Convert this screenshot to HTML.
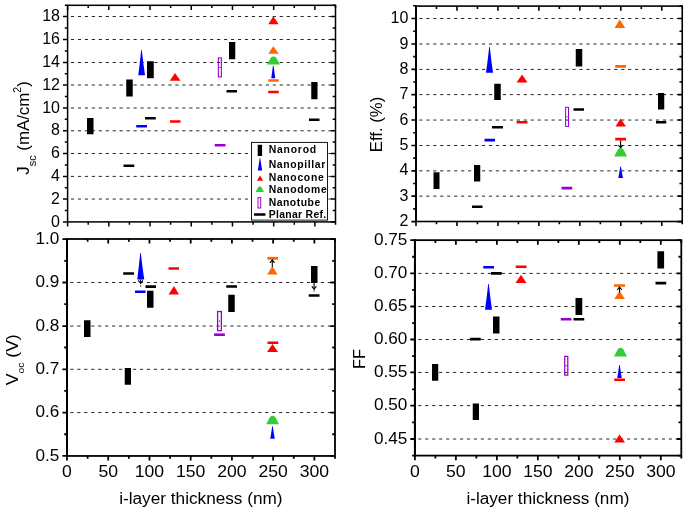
<!DOCTYPE html>
<html><head><meta charset="utf-8"><title>chart</title><style>html,body{margin:0;padding:0;background:#fff}svg{display:block;transform:translateZ(0);will-change:transform}</style></head><body>
<svg width="688" height="512" viewBox="0 0 688 512" font-family="'Liberation Sans', sans-serif" fill="#000">
<rect width="688" height="512" fill="#fff"/>
<line x1="68.40" y1="199.05" x2="335.00" y2="199.05" stroke="#000" stroke-width="0.85" stroke-dasharray="3.2,3.76" stroke-dashoffset="-2.5"/>
<line x1="68.40" y1="176.40" x2="335.00" y2="176.40" stroke="#000" stroke-width="0.85" stroke-dasharray="3.2,3.76" stroke-dashoffset="-2.5"/>
<line x1="68.40" y1="153.50" x2="335.00" y2="153.50" stroke="#000" stroke-width="0.85" stroke-dasharray="3.2,3.76" stroke-dashoffset="-2.5"/>
<line x1="68.40" y1="130.80" x2="335.00" y2="130.80" stroke="#000" stroke-width="0.85" stroke-dasharray="3.2,3.76" stroke-dashoffset="-2.5"/>
<line x1="68.40" y1="108.00" x2="335.00" y2="108.00" stroke="#000" stroke-width="0.85" stroke-dasharray="3.2,3.76" stroke-dashoffset="-2.5"/>
<line x1="68.40" y1="85.00" x2="335.00" y2="85.00" stroke="#000" stroke-width="0.85" stroke-dasharray="3.2,3.76" stroke-dashoffset="-2.5"/>
<line x1="68.40" y1="62.50" x2="335.00" y2="62.50" stroke="#000" stroke-width="0.85" stroke-dasharray="3.2,3.76" stroke-dashoffset="-2.5"/>
<line x1="68.40" y1="39.50" x2="335.00" y2="39.50" stroke="#000" stroke-width="0.85" stroke-dasharray="3.2,3.76" stroke-dashoffset="-2.5"/>
<line x1="68.40" y1="16.50" x2="335.00" y2="16.50" stroke="#000" stroke-width="0.85" stroke-dasharray="3.2,3.76" stroke-dashoffset="-2.5"/>
<line x1="416.80" y1="196.15" x2="681.75" y2="196.15" stroke="#000" stroke-width="0.85" stroke-dasharray="3.2,3.76" stroke-dashoffset="-2.5"/>
<line x1="416.80" y1="170.85" x2="681.75" y2="170.85" stroke="#000" stroke-width="0.85" stroke-dasharray="3.2,3.76" stroke-dashoffset="-2.5"/>
<line x1="416.80" y1="145.50" x2="681.75" y2="145.50" stroke="#000" stroke-width="0.85" stroke-dasharray="3.2,3.76" stroke-dashoffset="-2.5"/>
<line x1="416.80" y1="120.05" x2="681.75" y2="120.05" stroke="#000" stroke-width="0.85" stroke-dasharray="3.2,3.76" stroke-dashoffset="-2.5"/>
<line x1="416.80" y1="94.60" x2="681.75" y2="94.60" stroke="#000" stroke-width="0.85" stroke-dasharray="3.2,3.76" stroke-dashoffset="-2.5"/>
<line x1="416.80" y1="69.40" x2="681.75" y2="69.40" stroke="#000" stroke-width="0.85" stroke-dasharray="3.2,3.76" stroke-dashoffset="-2.5"/>
<line x1="416.80" y1="44.00" x2="681.75" y2="44.00" stroke="#000" stroke-width="0.85" stroke-dasharray="3.2,3.76" stroke-dashoffset="-2.5"/>
<line x1="416.80" y1="18.50" x2="681.75" y2="18.50" stroke="#000" stroke-width="0.85" stroke-dasharray="3.2,3.76" stroke-dashoffset="-2.5"/>
<line x1="67.80" y1="412.55" x2="334.50" y2="412.55" stroke="#000" stroke-width="0.85" stroke-dasharray="3.2,3.76" stroke-dashoffset="-2.5"/>
<line x1="67.80" y1="369.30" x2="334.50" y2="369.30" stroke="#000" stroke-width="0.85" stroke-dasharray="3.2,3.76" stroke-dashoffset="-2.5"/>
<line x1="67.80" y1="326.05" x2="334.50" y2="326.05" stroke="#000" stroke-width="0.85" stroke-dasharray="3.2,3.76" stroke-dashoffset="-2.5"/>
<line x1="67.80" y1="282.50" x2="334.50" y2="282.50" stroke="#000" stroke-width="0.85" stroke-dasharray="3.2,3.76" stroke-dashoffset="-2.5"/>
<line x1="415.70" y1="439.00" x2="680.80" y2="439.00" stroke="#000" stroke-width="0.85" stroke-dasharray="3.2,3.76" stroke-dashoffset="-2.5"/>
<line x1="415.70" y1="405.60" x2="680.80" y2="405.60" stroke="#000" stroke-width="0.85" stroke-dasharray="3.2,3.76" stroke-dashoffset="-2.5"/>
<line x1="415.70" y1="372.45" x2="680.80" y2="372.45" stroke="#000" stroke-width="0.85" stroke-dasharray="3.2,3.76" stroke-dashoffset="-2.5"/>
<line x1="415.70" y1="339.50" x2="680.80" y2="339.50" stroke="#000" stroke-width="0.85" stroke-dasharray="3.2,3.76" stroke-dashoffset="-2.5"/>
<line x1="415.70" y1="306.50" x2="680.80" y2="306.50" stroke="#000" stroke-width="0.85" stroke-dasharray="3.2,3.76" stroke-dashoffset="-2.5"/>
<line x1="415.70" y1="273.40" x2="680.80" y2="273.40" stroke="#000" stroke-width="0.85" stroke-dasharray="3.2,3.76" stroke-dashoffset="-2.5"/>
<rect x="87.00" y="118.00" width="6.50" height="16.25" fill="#000"/>
<rect x="126.25" y="79.50" width="6.50" height="17.00" fill="#000"/>
<rect x="147.00" y="61.25" width="6.75" height="17.00" fill="#000"/>
<rect x="229.00" y="42.00" width="6.25" height="17.25" fill="#000"/>
<rect x="311.25" y="82.00" width="6.25" height="17.25" fill="#000"/>
<rect x="123.50" y="164.50" width="10.75" height="2.50" fill="#000"/>
<rect x="145.00" y="117.00" width="10.75" height="2.50" fill="#000"/>
<rect x="226.50" y="90.00" width="10.50" height="2.50" fill="#000"/>
<rect x="309.00" y="118.50" width="10.50" height="2.50" fill="#000"/>
<path d="M141.20,50.00 L141.80,50.00 Q143.18,62.62 145.00,75.25 L138.25,75.25 Q139.91,62.62 141.20,50.00Z" fill="#0000ff"/>
<rect x="136.25" y="125.00" width="10.75" height="2.50" fill="#0000ff"/>
<polygon points="175.00,73.00 180.50,80.75 169.75,80.75" fill="#ff0000"/>
<rect x="170.00" y="120.25" width="10.50" height="2.50" fill="#ff0000"/>
<rect x="218.35" y="57.95" width="3.00" height="19.00" fill="none" stroke="#9900cc" stroke-width="1.1"/>
<rect x="219.35" y="66.95" width="1" height="1" fill="#000"/>
<rect x="214.75" y="144.00" width="10.75" height="2.50" fill="#9900cc"/>
<polygon points="273.25,16.25 278.75,24.25 268.25,24.25" fill="#ff0000"/>
<polygon points="273.25,46.25 278.75,53.75 268.25,53.75" fill="#ff6600"/>
<path d="M272.95,65.50 L273.55,65.50 Q274.36,71.88 275.25,78.25 L271.25,78.25 Q272.14,71.88 272.95,65.50Z" fill="#0000ff"/>
<path d="M267.00,64.50 L270.12,58.89 C271.29,55.59 275.71,55.59 276.88,58.89 L280.00,64.50Z" fill="#33cc33"/>
<rect x="268.25" y="79.25" width="10.50" height="2.50" fill="#ff6600"/>
<rect x="268.25" y="90.75" width="10.50" height="2.50" fill="#ff0000"/>
<rect x="433.50" y="172.25" width="6.00" height="16.75" fill="#000"/>
<rect x="474.00" y="165.00" width="6.25" height="16.50" fill="#000"/>
<rect x="494.25" y="83.75" width="6.50" height="16.25" fill="#000"/>
<rect x="575.75" y="49.00" width="6.50" height="17.50" fill="#000"/>
<rect x="658.00" y="93.00" width="6.25" height="16.50" fill="#000"/>
<rect x="472.00" y="205.50" width="10.50" height="2.50" fill="#000"/>
<rect x="492.00" y="126.00" width="11.00" height="2.50" fill="#000"/>
<rect x="573.50" y="108.25" width="10.50" height="2.50" fill="#000"/>
<rect x="656.00" y="121.00" width="10.25" height="2.50" fill="#000"/>
<path d="M489.20,47.00 L489.80,47.00 Q491.18,59.88 493.00,72.75 L486.00,72.75 Q487.82,59.88 489.20,47.00Z" fill="#0000ff"/>
<rect x="484.50" y="138.75" width="10.50" height="2.75" fill="#0000ff"/>
<polygon points="522.00,74.50 527.50,82.50 516.50,82.50" fill="#ff0000"/>
<rect x="516.50" y="121.00" width="11.00" height="2.50" fill="#ff0000"/>
<rect x="565.60" y="107.30" width="2.90" height="19.10" fill="none" stroke="#9900cc" stroke-width="1.0"/>
<rect x="566.55" y="116.35" width="1" height="1" fill="#000"/>
<rect x="561.50" y="186.75" width="10.75" height="2.75" fill="#9900cc"/>
<polygon points="619.75,19.50 625.25,28.00 614.50,28.00" fill="#ff6600"/>
<rect x="615.25" y="65.00" width="10.75" height="2.75" fill="#ff6600"/>
<polygon points="620.50,118.50 626.00,126.50 615.50,126.50" fill="#ff0000"/>
<rect x="615.25" y="137.75" width="10.75" height="2.75" fill="#ff0000"/>
<line x1="620.60" y1="140.50" x2="620.60" y2="148.20" stroke="#000" stroke-width="1.1"/>
<path d="M618.30,145.00 L620.60,147.90 L622.90,145.00" fill="none" stroke="#000" stroke-width="1.1"/>
<path d="M614.20,156.60 L617.30,150.62 C618.46,147.10 622.84,147.10 624.00,150.62 L627.10,156.60Z" fill="#33cc33"/>
<path d="M620.30,166.40 L620.90,166.40 Q621.86,172.25 623.00,178.10 L618.30,178.10 Q619.38,172.25 620.30,166.40Z" fill="#0000ff"/>
<rect x="84.00" y="320.25" width="6.50" height="16.75" fill="#000"/>
<rect x="124.75" y="368.00" width="6.25" height="16.75" fill="#000"/>
<rect x="147.00" y="290.75" width="6.50" height="17.00" fill="#000"/>
<rect x="228.25" y="294.75" width="6.50" height="17.25" fill="#000"/>
<rect x="311.00" y="266.00" width="6.50" height="17.00" fill="#000"/>
<rect x="123.25" y="272.25" width="10.75" height="2.50" fill="#000"/>
<rect x="145.50" y="285.25" width="10.50" height="2.75" fill="#000"/>
<rect x="226.25" y="285.25" width="10.75" height="2.50" fill="#000"/>
<rect x="308.75" y="294.25" width="10.75" height="2.50" fill="#000"/>
<path d="M140.20,253.00 L140.80,253.00 Q142.28,266.25 144.25,279.50 L137.25,279.50 Q138.91,266.25 140.20,253.00Z" fill="#0000ff"/>
<line x1="140.60" y1="279.30" x2="140.60" y2="283.60" stroke="#000" stroke-width="1.1"/>
<path d="M138.30,280.40 L140.60,283.30 L142.90,280.40" fill="none" stroke="#000" stroke-width="1.1"/>
<rect x="140.05" y="285.50" width="1.1" height="1.1" fill="#000"/>
<rect x="135.00" y="290.50" width="10.50" height="2.50" fill="#0000ff"/>
<rect x="168.50" y="267.25" width="10.50" height="2.50" fill="#ff0000"/>
<polygon points="174.00,286.00 179.00,294.50 168.50,294.50" fill="#ff0000"/>
<rect x="217.60" y="311.55" width="3.75" height="19.10" fill="none" stroke="#9900cc" stroke-width="1.3"/>
<rect x="218.97" y="320.60" width="1" height="1" fill="#000"/>
<rect x="214.10" y="333.40" width="10.80" height="2.60" fill="#9900cc"/>
<rect x="267.40" y="256.90" width="10.70" height="2.80" fill="#ff6600"/>
<polygon points="272.30,266.30 277.60,274.50 267.10,274.50" fill="#ff6600"/>
<line x1="272.30" y1="259.60" x2="272.30" y2="267.00" stroke="#000" stroke-width="1.1"/>
<path d="M270.00,262.80 L272.30,259.90 L274.60,262.80" fill="none" stroke="#000" stroke-width="1.1"/>
<rect x="267.50" y="341.50" width="10.75" height="2.50" fill="#ff0000"/>
<polygon points="272.50,344.00 278.00,352.00 267.00,352.00" fill="#ff0000"/>
<path d="M266.25,424.25 L269.31,418.30 C270.46,414.80 274.79,414.80 275.94,418.30 L279.00,424.25Z" fill="#33cc33"/>
<path d="M272.20,426.25 L272.80,426.25 Q273.71,432.50 274.75,438.75 L270.25,438.75 Q271.29,432.50 272.20,426.25Z" fill="#0000ff"/>
<line x1="314.10" y1="283.00" x2="314.10" y2="289.50" stroke="#000" stroke-width="1.1"/>
<path d="M311.80,286.30 L314.10,289.20 L316.40,286.30" fill="none" stroke="#000" stroke-width="1.1"/>
<rect x="313.55" y="290.50" width="1.1" height="1.1" fill="#000"/>
<rect x="432.00" y="364.00" width="6.25" height="16.75" fill="#000"/>
<rect x="472.75" y="403.50" width="6.25" height="16.50" fill="#000"/>
<rect x="493.00" y="316.50" width="6.50" height="17.00" fill="#000"/>
<rect x="575.50" y="298.00" width="6.75" height="17.00" fill="#000"/>
<rect x="657.40" y="251.25" width="6.70" height="17.25" fill="#000"/>
<rect x="470.00" y="337.75" width="10.75" height="2.75" fill="#000"/>
<rect x="491.00" y="272.00" width="10.75" height="2.75" fill="#000"/>
<rect x="573.50" y="318.00" width="10.75" height="2.50" fill="#000"/>
<rect x="655.50" y="281.75" width="10.75" height="2.75" fill="#000"/>
<rect x="483.25" y="266.00" width="10.75" height="2.50" fill="#0000ff"/>
<path d="M488.20,284.00 L488.80,284.00 Q490.18,296.88 492.00,309.75 L485.00,309.75 Q486.82,296.88 488.20,284.00Z" fill="#0000ff"/>
<rect x="515.75" y="265.50" width="10.75" height="2.50" fill="#ff0000"/>
<polygon points="521.00,274.75 526.50,283.00 515.50,283.00" fill="#ff0000"/>
<rect x="560.75" y="318.00" width="10.75" height="2.50" fill="#9900cc"/>
<rect x="564.73" y="356.38" width="3.05" height="18.75" fill="none" stroke="#9900cc" stroke-width="1.25"/>
<rect x="565.75" y="365.25" width="1" height="1" fill="#000"/>
<rect x="614.00" y="284.25" width="11.00" height="2.50" fill="#ff6600"/>
<polygon points="619.50,291.00 625.00,299.00 614.25,299.00" fill="#ff6600"/>
<line x1="619.50" y1="286.80" x2="619.50" y2="292.75" stroke="#000" stroke-width="1.1"/>
<path d="M617.20,290.00 L619.50,287.10 L621.80,290.00" fill="none" stroke="#000" stroke-width="1.1"/>
<path d="M614.00,356.50 L617.12,350.38 C618.29,346.78 622.71,346.78 623.88,350.38 L627.00,356.50Z" fill="#33cc33"/>
<path d="M619.20,365.00 L619.80,365.00 Q620.71,371.50 621.75,378.00 L617.25,378.00 Q618.29,371.50 619.20,365.00Z" fill="#0000ff"/>
<rect x="614.25" y="378.50" width="10.75" height="2.50" fill="#ff0000"/>
<polygon points="619.50,434.50 625.00,442.50 614.25,442.50" fill="#ff0000"/>
<rect x="251.5" y="142.4" width="76.0" height="77.7" fill="#fff" stroke="#000" stroke-width="0.9"/>
<rect x="257.70" y="144.80" width="4.40" height="11.20" fill="#000"/>
<path d="M259.70,158.20 L260.30,158.20 Q261.15,164.30 262.10,170.40 L257.80,170.40 Q258.81,164.30 259.70,158.20Z" fill="#0000ff"/>
<polygon points="260.00,175.60 263.10,180.70 256.90,180.70" fill="#ff0000"/>
<path d="M255.60,191.90 L257.62,188.16 C258.37,185.96 261.23,185.96 261.98,188.16 L264.00,191.90Z" fill="#33cc33"/>
<rect x="258.00" y="197.70" width="2.70" height="10.30" fill="none" stroke="#9900cc" stroke-width="1.0"/>
<rect x="254.00" y="213.25" width="11.50" height="2.50" fill="#000"/>
<text x="268.70" y="153.00" text-anchor="start" font-size="10.4" textLength="47.50" font-weight="bold" lengthAdjust="spacing">Nanorod</text>
<text x="268.70" y="168.00" text-anchor="start" font-size="10.4" textLength="56.50" font-weight="bold" lengthAdjust="spacing">Nanopillar</text>
<text x="268.70" y="181.00" text-anchor="start" font-size="10.4" textLength="55.00" font-weight="bold" lengthAdjust="spacing">Nanocone</text>
<text x="268.70" y="192.50" text-anchor="start" font-size="10.4" textLength="58.00" font-weight="bold" lengthAdjust="spacing">Nanodome</text>
<text x="268.70" y="206.25" text-anchor="start" font-size="10.4" textLength="51.50" font-weight="bold" lengthAdjust="spacing">Nanotube</text>
<text x="268.70" y="217.50" text-anchor="start" font-size="10.4" textLength="57.50" font-weight="bold" lengthAdjust="spacing">Planar Ref.</text>
<rect x="67.60" y="5.30" width="267.90" height="216.60" fill="none" stroke="#000" stroke-width="1.5"/>
<path d="M67.60,5.30v4.6M67.60,221.90v4.6M88.21,5.30v2.8M88.21,221.90v2.8M108.82,5.30v4.6M108.82,221.90v4.6M129.42,5.30v2.8M129.42,221.90v2.8M150.03,5.30v4.6M150.03,221.90v4.6M170.64,5.30v2.8M170.64,221.90v2.8M191.25,5.30v4.6M191.25,221.90v4.6M211.85,5.30v2.8M211.85,221.90v2.8M232.46,5.30v4.6M232.46,221.90v4.6M253.07,5.30v2.8M253.07,221.90v2.8M273.68,5.30v4.6M273.68,221.90v4.6M294.28,5.30v2.8M294.28,221.90v2.8M314.89,5.30v4.6M314.89,221.90v4.6M335.50,5.30v2.8M335.50,221.90v2.8M67.60,221.90h-4.6M335.50,221.90h-4.6M67.60,199.05h-4.6M335.50,199.05h-4.6M67.60,176.40h-4.6M335.50,176.40h-4.6M67.60,153.50h-4.6M335.50,153.50h-4.6M67.60,130.80h-4.6M335.50,130.80h-4.6M67.60,108.00h-4.6M335.50,108.00h-4.6M67.60,85.00h-4.6M335.50,85.00h-4.6M67.60,62.50h-4.6M335.50,62.50h-4.6M67.60,39.50h-4.6M335.50,39.50h-4.6M67.60,16.50h-4.6M335.50,16.50h-4.6M67.60,210.50h-2.8M335.50,210.50h-2.8M67.60,187.70h-2.8M335.50,187.70h-2.8M67.60,164.90h-2.8M335.50,164.90h-2.8M67.60,142.10h-2.8M335.50,142.10h-2.8M67.60,119.30h-2.8M335.50,119.30h-2.8M67.60,96.50h-2.8M335.50,96.50h-2.8M67.60,73.70h-2.8M335.50,73.70h-2.8M67.60,50.90h-2.8M335.50,50.90h-2.8M67.60,28.10h-2.8M335.50,28.10h-2.8M67.60,5.30h-2.8M335.50,5.30h-2.8" stroke="#000" stroke-width="1.5" fill="none"/>
<text x="60.00" y="226.50" text-anchor="end" font-size="16">0</text>
<text x="60.00" y="203.65" text-anchor="end" font-size="16">2</text>
<text x="60.00" y="181.00" text-anchor="end" font-size="16">4</text>
<text x="60.00" y="158.10" text-anchor="end" font-size="16">6</text>
<text x="60.00" y="135.40" text-anchor="end" font-size="16">8</text>
<text x="60.00" y="112.60" text-anchor="end" font-size="16">10</text>
<text x="60.00" y="89.60" text-anchor="end" font-size="16">12</text>
<text x="60.00" y="67.10" text-anchor="end" font-size="16">14</text>
<text x="60.00" y="44.10" text-anchor="end" font-size="16">16</text>
<text x="60.00" y="21.10" text-anchor="end" font-size="16">18</text>
<rect x="416.00" y="6.10" width="266.25" height="215.40" fill="none" stroke="#000" stroke-width="1.6"/>
<line x1="416.00" y1="5.30" x2="416.00" y2="222.30" stroke="#000" stroke-width="2.0"/>
<path d="M416.00,6.10v4.6M416.00,221.50v4.6M436.48,6.10v2.8M436.48,221.50v2.8M456.96,6.10v4.6M456.96,221.50v4.6M477.44,6.10v2.8M477.44,221.50v2.8M497.92,6.10v4.6M497.92,221.50v4.6M518.40,6.10v2.8M518.40,221.50v2.8M538.88,6.10v4.6M538.88,221.50v4.6M559.37,6.10v2.8M559.37,221.50v2.8M579.85,6.10v4.6M579.85,221.50v4.6M600.33,6.10v2.8M600.33,221.50v2.8M620.81,6.10v4.6M620.81,221.50v4.6M641.29,6.10v2.8M641.29,221.50v2.8M661.77,6.10v4.6M661.77,221.50v4.6M682.25,6.10v2.8M682.25,221.50v2.8M416.00,221.60h-4.6M682.25,221.60h-4.6M416.00,196.15h-4.6M682.25,196.15h-4.6M416.00,170.85h-4.6M682.25,170.85h-4.6M416.00,145.50h-4.6M682.25,145.50h-4.6M416.00,120.05h-4.6M682.25,120.05h-4.6M416.00,94.60h-4.6M682.25,94.60h-4.6M416.00,69.40h-4.6M682.25,69.40h-4.6M416.00,44.00h-4.6M682.25,44.00h-4.6M416.00,18.50h-4.6M682.25,18.50h-4.6M416.00,208.91h-2.8M682.25,208.91h-2.8M416.00,183.52h-2.8M682.25,183.52h-2.8M416.00,158.13h-2.8M682.25,158.13h-2.8M416.00,132.74h-2.8M682.25,132.74h-2.8M416.00,107.36h-2.8M682.25,107.36h-2.8M416.00,81.97h-2.8M682.25,81.97h-2.8M416.00,56.58h-2.8M682.25,56.58h-2.8M416.00,31.19h-2.8M682.25,31.19h-2.8M416.00,5.81h-2.8M682.25,5.81h-2.8" stroke="#000" stroke-width="1.6" fill="none"/>
<text x="408.40" y="226.20" text-anchor="end" font-size="16">2</text>
<text x="408.40" y="200.75" text-anchor="end" font-size="16">3</text>
<text x="408.40" y="175.45" text-anchor="end" font-size="16">4</text>
<text x="408.40" y="150.10" text-anchor="end" font-size="16">5</text>
<text x="408.40" y="124.65" text-anchor="end" font-size="16">6</text>
<text x="408.40" y="99.20" text-anchor="end" font-size="16">7</text>
<text x="408.40" y="74.00" text-anchor="end" font-size="16">8</text>
<text x="408.40" y="48.60" text-anchor="end" font-size="16">9</text>
<text x="408.40" y="23.10" text-anchor="end" font-size="16">10</text>
<rect x="67.00" y="239.00" width="268.00" height="216.95" fill="none" stroke="#000" stroke-width="1.8"/>
<line x1="67.00" y1="238.10" x2="67.00" y2="456.85" stroke="#000" stroke-width="2.0"/>
<path d="M67.00,239.00v4.6M67.00,455.95v4.6M87.62,239.00v2.8M87.62,455.95v2.8M108.23,239.00v4.6M108.23,455.95v4.6M128.85,239.00v2.8M128.85,455.95v2.8M149.46,239.00v4.6M149.46,455.95v4.6M170.08,239.00v2.8M170.08,455.95v2.8M190.69,239.00v4.6M190.69,455.95v4.6M211.31,239.00v2.8M211.31,455.95v2.8M231.92,239.00v4.6M231.92,455.95v4.6M252.54,239.00v2.8M252.54,455.95v2.8M273.15,239.00v4.6M273.15,455.95v4.6M293.77,239.00v2.8M293.77,455.95v2.8M314.38,239.00v4.6M314.38,455.95v4.6M335.00,239.00v2.8M335.00,455.95v2.8M67.00,455.95h-4.6M335.00,455.95h-4.6M67.00,412.55h-4.6M335.00,412.55h-4.6M67.00,369.30h-4.6M335.00,369.30h-4.6M67.00,326.05h-4.6M335.00,326.05h-4.6M67.00,282.50h-4.6M335.00,282.50h-4.6M67.00,239.10h-4.6M335.00,239.10h-4.6M67.00,434.26h-2.8M335.00,434.26h-2.8M67.00,390.89h-2.8M335.00,390.89h-2.8M67.00,347.52h-2.8M335.00,347.52h-2.8M67.00,304.15h-2.8M335.00,304.15h-2.8M67.00,260.79h-2.8M335.00,260.79h-2.8" stroke="#000" stroke-width="1.8" fill="none"/>
<text x="59.40" y="460.55" text-anchor="end" font-size="16" textLength="23.81" lengthAdjust="spacingAndGlyphs">0.5</text>
<text x="59.40" y="417.15" text-anchor="end" font-size="16" textLength="23.81" lengthAdjust="spacingAndGlyphs">0.6</text>
<text x="59.40" y="373.90" text-anchor="end" font-size="16" textLength="23.81" lengthAdjust="spacingAndGlyphs">0.7</text>
<text x="59.40" y="330.65" text-anchor="end" font-size="16" textLength="23.81" lengthAdjust="spacingAndGlyphs">0.8</text>
<text x="59.40" y="287.10" text-anchor="end" font-size="16" textLength="23.81" lengthAdjust="spacingAndGlyphs">0.9</text>
<text x="59.40" y="243.70" text-anchor="end" font-size="16" textLength="23.81" lengthAdjust="spacingAndGlyphs">1.0</text>
<rect x="414.90" y="240.15" width="266.40" height="215.45" fill="none" stroke="#000" stroke-width="1.8"/>
<line x1="414.90" y1="239.25" x2="414.90" y2="456.50" stroke="#000" stroke-width="2.0"/>
<path d="M414.90,240.15v4.6M414.90,455.60v4.6M435.39,240.15v2.8M435.39,455.60v2.8M455.88,240.15v4.6M455.88,455.60v4.6M476.38,240.15v2.8M476.38,455.60v2.8M496.87,240.15v4.6M496.87,455.60v4.6M517.36,240.15v2.8M517.36,455.60v2.8M537.85,240.15v4.6M537.85,455.60v4.6M558.35,240.15v2.8M558.35,455.60v2.8M578.84,240.15v4.6M578.84,455.60v4.6M599.33,240.15v2.8M599.33,455.60v2.8M619.82,240.15v4.6M619.82,455.60v4.6M640.32,240.15v2.8M640.32,455.60v2.8M660.81,240.15v4.6M660.81,455.60v4.6M681.30,240.15v2.8M681.30,455.60v2.8M414.90,439.00h-4.6M681.30,439.00h-4.6M414.90,405.60h-4.6M681.30,405.60h-4.6M414.90,372.45h-4.6M681.30,372.45h-4.6M414.90,339.50h-4.6M681.30,339.50h-4.6M414.90,306.50h-4.6M681.30,306.50h-4.6M414.90,273.40h-4.6M681.30,273.40h-4.6M414.90,240.20h-4.6M681.30,240.20h-4.6M414.90,455.57h-2.8M681.30,455.57h-2.8M414.90,422.43h-2.8M681.30,422.43h-2.8M414.90,389.30h-2.8M681.30,389.30h-2.8M414.90,356.17h-2.8M681.30,356.17h-2.8M414.90,323.03h-2.8M681.30,323.03h-2.8M414.90,289.90h-2.8M681.30,289.90h-2.8M414.90,256.77h-2.8M681.30,256.77h-2.8" stroke="#000" stroke-width="1.8" fill="none"/>
<text x="407.30" y="443.60" text-anchor="end" font-size="16" textLength="33.33" lengthAdjust="spacingAndGlyphs">0.45</text>
<text x="407.30" y="410.20" text-anchor="end" font-size="16" textLength="33.33" lengthAdjust="spacingAndGlyphs">0.50</text>
<text x="407.30" y="377.05" text-anchor="end" font-size="16" textLength="33.33" lengthAdjust="spacingAndGlyphs">0.55</text>
<text x="407.30" y="344.10" text-anchor="end" font-size="16" textLength="33.33" lengthAdjust="spacingAndGlyphs">0.60</text>
<text x="407.30" y="311.10" text-anchor="end" font-size="16" textLength="33.33" lengthAdjust="spacingAndGlyphs">0.65</text>
<text x="407.30" y="278.00" text-anchor="end" font-size="16" textLength="33.33" lengthAdjust="spacingAndGlyphs">0.70</text>
<text x="407.30" y="244.80" text-anchor="end" font-size="16" textLength="33.33" lengthAdjust="spacingAndGlyphs">0.75</text>
<text x="67.00" y="476.60" text-anchor="middle" font-size="16" textLength="9.79" lengthAdjust="spacingAndGlyphs">0</text>
<text x="108.23" y="476.60" text-anchor="middle" font-size="16" textLength="19.58" lengthAdjust="spacingAndGlyphs">50</text>
<text x="149.46" y="476.60" text-anchor="middle" font-size="16" textLength="29.37" lengthAdjust="spacingAndGlyphs">100</text>
<text x="190.69" y="476.60" text-anchor="middle" font-size="16" textLength="29.37" lengthAdjust="spacingAndGlyphs">150</text>
<text x="231.92" y="476.60" text-anchor="middle" font-size="16" textLength="29.37" lengthAdjust="spacingAndGlyphs">200</text>
<text x="273.15" y="476.60" text-anchor="middle" font-size="16" textLength="29.37" lengthAdjust="spacingAndGlyphs">250</text>
<text x="314.38" y="476.60" text-anchor="middle" font-size="16" textLength="29.37" lengthAdjust="spacingAndGlyphs">300</text>
<text x="414.90" y="476.60" text-anchor="middle" font-size="16" textLength="9.79" lengthAdjust="spacingAndGlyphs">0</text>
<text x="455.88" y="476.60" text-anchor="middle" font-size="16" textLength="19.58" lengthAdjust="spacingAndGlyphs">50</text>
<text x="496.87" y="476.60" text-anchor="middle" font-size="16" textLength="29.37" lengthAdjust="spacingAndGlyphs">100</text>
<text x="537.85" y="476.60" text-anchor="middle" font-size="16" textLength="29.37" lengthAdjust="spacingAndGlyphs">150</text>
<text x="578.84" y="476.60" text-anchor="middle" font-size="16" textLength="29.37" lengthAdjust="spacingAndGlyphs">200</text>
<text x="619.82" y="476.60" text-anchor="middle" font-size="16" textLength="29.37" lengthAdjust="spacingAndGlyphs">250</text>
<text x="660.81" y="476.60" text-anchor="middle" font-size="16" textLength="29.37" lengthAdjust="spacingAndGlyphs">300</text>
<text x="200.90" y="504.40" text-anchor="middle" font-size="16" textLength="163.40" lengthAdjust="spacingAndGlyphs">i-layer thickness (nm)</text>
<text x="547.90" y="504.40" text-anchor="middle" font-size="16" textLength="163.00" lengthAdjust="spacingAndGlyphs">i-layer thickness (nm)</text>
<text transform="translate(29.1,174.7) rotate(-90)" font-size="16" textLength="93.5" lengthAdjust="spacingAndGlyphs">J<tspan font-size="10.4" dy="6.8">sc</tspan><tspan dy="-6.8"> (mA/cm</tspan><tspan font-size="10" dy="-8">2</tspan><tspan dy="8">)</tspan></text>
<text transform="translate(382,152.2) rotate(-90)" font-size="16" textLength="55.5" lengthAdjust="spacingAndGlyphs">Eff. (%)</text>
<text transform="translate(18.0,385.3) rotate(-90)" font-size="16" textLength="51" lengthAdjust="spacingAndGlyphs">V<tspan font-size="9.5" dy="6.4">oc</tspan><tspan dy="-6.4"> (V)</tspan></text>
<text transform="translate(364.8,368.9) rotate(-90)" font-size="16" textLength="20" lengthAdjust="spacingAndGlyphs">FF</text>
</svg>
</body></html>
